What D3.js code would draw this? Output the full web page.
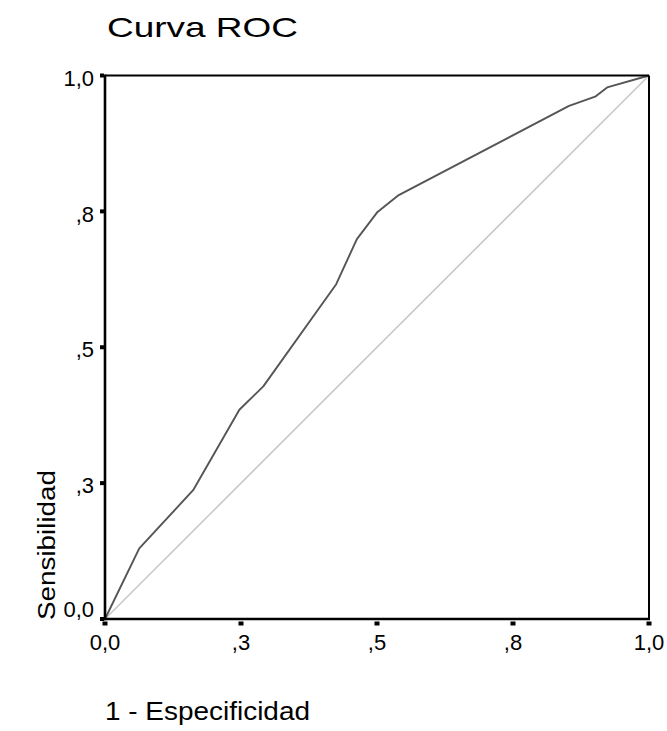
<!DOCTYPE html>
<html>
<head>
<meta charset="utf-8">
<script src="https://cdn.jsdelivr.net/npm/d3@7"></script>
<style>
  html, body { margin: 0; padding: 0; background: #fff; }
  svg { display: block; }
  text { font-family: Arial, "Liberation Sans", sans-serif; fill: #000; }
</style>
</head>
<body>
<svg id="chart" width="667" height="731"></svg>
<script>
// ---- data ----
const fpr = [0, 0.063, 0.162, 0.247, 0.291, 0.425, 0.463, 0.501, 0.540, 0.853, 0.901, 0.923, 1];
const tpr = [0, 0.130, 0.237, 0.385, 0.428, 0.616, 0.699, 0.749, 0.780, 0.944, 0.961, 0.978, 1];
const tickValues = [0, 0.25, 0.5, 0.75, 1];
const tickLabels = ["0,0", ",3", ",5", ",8", "1,0"];
const titleText = "Curva ROC";
const xLabelText = "1 - Especificidad";
const yLabelText = "Sensibilidad";

// ---- layout ----
const pL = 105, pR = 649, pT = 75.5, pB = 619;
const svg = d3.select("#chart");

const x = d3.scaleLinear().domain([0, 1]).range([pL, pR]);
const y = d3.scaleLinear().domain([0, 1]).range([pB, pT]);

// diagonal reference
svg.append("line")
  .attr("x1", x(0)).attr("y1", y(0))
  .attr("x2", x(1)).attr("y2", y(1))
  .attr("stroke", "#c6c6c6").attr("stroke-width", 1.5);

// ROC curve
const pts = fpr.map((d, i) => [d, tpr[i]]);
svg.append("path")
  .datum(pts)
  .attr("fill", "none")
  .attr("stroke", "#555555")
  .attr("stroke-width", 1.9)
  .attr("stroke-linejoin", "round")
  .attr("d", d3.line().x(d => x(d[0])).y(d => y(d[1])));

// frame
svg.append("line").attr("x1", pL).attr("x2", pR).attr("y1", pT).attr("y2", pT)
  .attr("stroke", "#000").attr("stroke-width", 2.2);
svg.append("line").attr("x1", pR).attr("x2", pR).attr("y1", pT).attr("y2", pB)
  .attr("stroke", "#000").attr("stroke-width", 2);
svg.append("line").attr("x1", pL).attr("x2", pL).attr("y1", pT - 1.1).attr("y2", pB + 1.3)
  .attr("stroke", "#000").attr("stroke-width", 2.6);
svg.append("line").attr("x1", pL - 1.3).attr("x2", pR + 1).attr("y1", pB).attr("y2", pB)
  .attr("stroke", "#000").attr("stroke-width", 2.6);

// y ticks (squares left of axis)
svg.selectAll("rect.yt").data(tickValues).enter().append("rect")
  .attr("class", "yt")
  .attr("x", pL - 5).attr("y", d => y(d) - 2)
  .attr("width", 4).attr("height", 4).attr("fill", "#000");

// x ticks (squares below axis)
svg.selectAll("rect.xt").data(tickValues).enter().append("rect")
  .attr("class", "xt")
  .attr("x", d => x(d) - 2.5).attr("y", pB + 2.5)
  .attr("width", 5).attr("height", 4).attr("fill", "#000");

// y tick labels
svg.selectAll("text.yl").data(tickValues).enter().append("text")
  .attr("class", "yl")
  .attr("x", pL - 11)
  .attr("y", d => d === 0 ? y(d) - 2.3 : y(d) + 10.2)
  .attr("text-anchor", "end")
  .style("font-size", "22px")
  .text((d, i) => tickLabels[i]);

// x tick labels
svg.selectAll("text.xl").data(tickValues).enter().append("text")
  .attr("class", "xl")
  .attr("x", d => x(d))
  .attr("y", 650)
  .attr("text-anchor", "middle")
  .style("font-size", "22px")
  .text((d, i) => tickLabels[i]);

// title
svg.append("text")
  .attr("x", 107).attr("y", 36.5)
  .style("font-size", "28px")
  .attr("textLength", 191).attr("lengthAdjust", "spacingAndGlyphs")
  .text(titleText);

// x axis label
svg.append("text")
  .attr("x", 105).attr("y", 720)
  .style("font-size", "25px")
  .attr("textLength", 205).attr("lengthAdjust", "spacingAndGlyphs")
  .text(xLabelText);

// y axis label
svg.append("text")
  .attr("transform", "translate(55,620) rotate(-90)")
  .attr("x", 0).attr("y", 0)
  .style("font-size", "23px")
  .attr("textLength", 150).attr("lengthAdjust", "spacingAndGlyphs")
  .text(yLabelText);
</script>
</body>
</html>
